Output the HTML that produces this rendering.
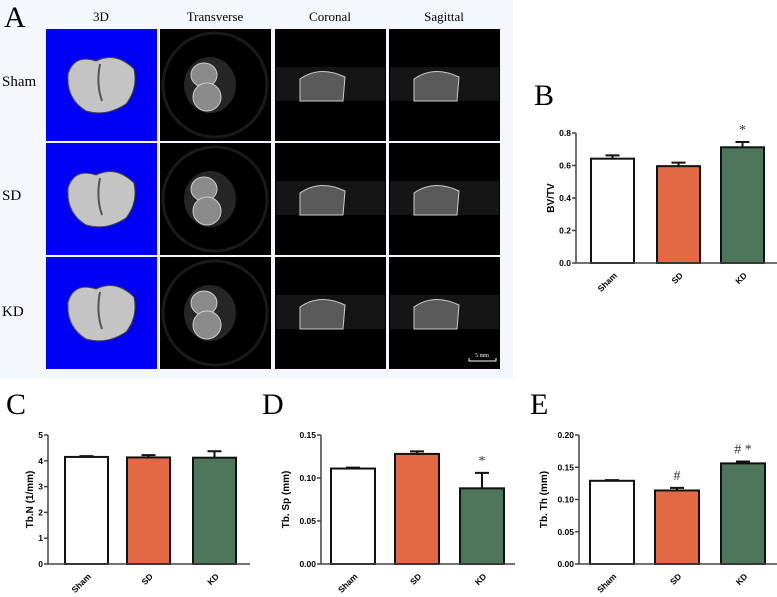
<!DOCTYPE html>
<html><head><meta charset="utf-8"><style>
html,body{margin:0;padding:0;background:#fff;}
svg{display:block;}
.ser{font-family:"Liberation Serif",serif;}
.sans{font-family:"Liberation Sans",sans-serif;font-weight:bold;}
</style></head><body>
<svg id="fig" width="777" height="597" viewBox="0 0 777 597" xmlns="http://www.w3.org/2000/svg">
<rect width="777" height="597" fill="#fff"/>
<g id="panelA">
<rect x="0" y="0" width="513" height="379" fill="#f4f8fc"/>
<text class="ser" x="4" y="27" font-size="30">A</text>
<text class="ser" x="101" y="21" font-size="13" text-anchor="middle">3D</text>
<text class="ser" x="215" y="21" font-size="13" text-anchor="middle">Transverse</text>
<text class="ser" x="330" y="21" font-size="13" text-anchor="middle">Coronal</text>
<text class="ser" x="444" y="21" font-size="13" text-anchor="middle">Sagittal</text>
<text class="ser" x="2" y="86" font-size="15">Sham</text>
<text class="ser" x="2" y="200" font-size="15">SD</text>
<text class="ser" x="2" y="316" font-size="15">KD</text>
</g>
<g id="charts"></g>
</svg>
<script>
// Chart data
const groups = ["Sham", "SD", "KD"];
const bvtvMeans = [0.642, 0.596, 0.712];
const bvtvErrs = [0.02, 0.022, 0.033];
const bvtvTicks = ["0.0", "0.2", "0.4", "0.6", "0.8"];
const tbnMeans = [4.15, 4.13, 4.12];
const tbnErrs = [0.03, 0.09, 0.25];
const tbnTicks = ["0", "1", "2", "3", "4", "5"];
const tbspMeans = [0.111, 0.128, 0.088];
const tbspErrs = [0.001, 0.003, 0.018];
const tbspTicks = ["0.00", "0.05", "0.10", "0.15"];
const tbthMeans = [0.129, 0.114, 0.156];
const tbthErrs = [0.001, 0.004, 0.003];
const tbthTicks = ["0.00", "0.05", "0.10", "0.15", "0.20"];
const bvtvMarks = ["", "", "*"];
const tbnMarks = ["", "", ""];
const tbspMarks = ["", "", "*"];
const tbthMarks = ["", "#", "#  *"];

const NS = "http://www.w3.org/2000/svg";
const fillColors = ["#ffffff", "#e36944", "#4d765b"];
function mk(tag, attrs, parent) {
  const e = document.createElementNS(NS, tag);
  for (const k in attrs) e.setAttribute(k, attrs[k]);
  parent.appendChild(e);
  return e;
}
const root = document.getElementById("charts");
const panelA = document.getElementById("panelA");

// Panel A images
const colX = [46, 160, 275, 389];
const rowY = [29, 143, 257];
for (let r = 0; r < 3; r++) {
  for (let c = 0; c < 4; c++) {
    const x = colX[c], y = rowY[r];
    const g = mk("g", {}, panelA);
    
    
    mk("rect", {x: x, y: y, width: 111, height: 112, fill: c === 0 ? "#0000f6" : "#000"}, g);
    if (c === 0) {
      mk("path", {d: `M${x+22} ${y+45} Q${x+28} ${y+25} ${x+50} ${y+32} Q${x+70} ${y+22} ${x+88} ${y+40} Q${x+92} ${y+60} ${x+80} ${y+75} Q${x+60} ${y+88} ${x+40} ${y+82} Q${x+20} ${y+70} ${x+22} ${y+45}Z`, fill: "#c4c4c4", stroke: "#444", "stroke-width": 1}, g);
      mk("path", {d: `M${x+54} ${y+35} Q${x+50} ${y+55} ${x+56} ${y+72}`, fill: "none", stroke: "#555", "stroke-width": 2}, g);
    } else if (c === 1) {
      mk("circle", {cx: x+55, cy: y+56, r: 52, fill: "none", stroke: "#1a1a1a", "stroke-width": 3}, g);
      mk("ellipse", {cx: x+50, cy: y+56, rx: 26, ry: 28, fill: "#262626"}, g);
      mk("ellipse", {cx: x+44, cy: y+46, rx: 13, ry: 12, fill: "#8a8a8a", stroke: "#ccc"}, g);
      mk("ellipse", {cx: x+47, cy: y+68, rx: 14, ry: 14, fill: "#8a8a8a", stroke: "#ccc"}, g);
    } else {
      mk("rect", {x: x+1, y: y+38, width: 109, height: 34, fill: "#151515"}, g);
      mk("path", {d: `M${x+25} ${y+72} L${x+25} ${y+50} Q${x+45} ${y+36} ${x+70} ${y+48} L${x+68} ${y+72}Z`, fill: "#5a5a5a", stroke: "#ccc"}, g);
    }
  }
}
const sb = mk("g", {}, panelA);


mk("path", {d: "M469 358 L469 361 L496 361 L496 358", fill: "none", stroke: "#fff", "stroke-width": 1}, sb);
const sbt = mk("text", {x: 482, y: 357, "font-size": 6, fill: "#fff", "text-anchor": "middle", class: "ser"}, sb);
sbt.textContent = "5 mm";

function chart(cfg) {
  const g = mk("g", {}, root);
  
  
  const ax = cfg.ax, y0 = cfg.y0, y1 = cfg.y1, max = cfg.max;
  const ys = v => y0 - (v / max) * (y0 - y1);
  const lab = mk("text", {x: cfg.lx, y: cfg.ly, "font-size": 30, class: "ser"}, g);
  
  
  lab.textContent = cfg.letter;
  cfg.means.forEach((m, i) => {
    const bx = cfg.barX[i];
    const top = ys(m), et = ys(m + cfg.errs[i]);
    const cx = bx + cfg.bw / 2;
    const eb = mk("path", {d: `M${cx} ${top} L${cx} ${et} M${cx-7} ${et} L${cx+7} ${et}`, stroke: "#111", "stroke-width": 2, fill: "none"}, g);
    
    
    const b = mk("rect", {x: bx, y: top, width: cfg.bw, height: y0 - top, fill: fillColors[i], stroke: "#111", "stroke-width": 2}, g);
    
    
    if (cfg.marks[i]) {
      const t = mk("text", {x: cx, y: et - 8, "font-size": 14, "text-anchor": "middle", fill: "#333", class: "ser", "xml:space": "preserve"}, g);
      
      
      t.textContent = cfg.marks[i];
    }
    const lx = cx + 5, ly = y0 + 13;
    const xl = mk("text", {x: lx, y: ly, "font-size": 8.5, "text-anchor": "end", class: "sans", transform: `rotate(-45 ${lx} ${ly})`}, g);
    
    
    xl.textContent = groups[i];
  });
  const a = mk("path", {d: `M${ax} ${y1} L${ax} ${y0} L${cfg.axEnd} ${y0}`, stroke: "#444", "stroke-width": 1.5, fill: "none"}, g);
  
  
  cfg.ticks.forEach(t => {
    const ty = ys(parseFloat(t));
    mk("line", {x1: ax - 4, y1: ty, x2: ax, y2: ty, stroke: "#444", "stroke-width": 1.5}, g);
    const tl = mk("text", {x: ax - 5, y: ty + 3, "font-size": 8.5, "text-anchor": "end", class: "sans"}, g);
    
    
    tl.textContent = t;
  });
  const yt = mk("text", {x: cfg.tx, y: (y0 + y1) / 2, "font-size": 10, "text-anchor": "middle", class: "sans", transform: `rotate(-90 ${cfg.tx} ${(y0+y1)/2})`}, g);
  
  
  yt.textContent = cfg.title;
}
chart({name: "chart-bv-tv", letter: "B", lx: 534, ly: 105, ax: 576, y0: 263, y1: 133, max: 0.8, axEnd: 777, barX: [591, 657, 721], bw: 43, means: bvtvMeans, errs: bvtvErrs, ticks: bvtvTicks, marks: bvtvMarks, title: "BV/TV", tx: 554});
chart({name: "chart-tb-n", letter: "C", lx: 6, ly: 414, ax: 48, y0: 564, y1: 435, max: 5, axEnd: 250, barX: [65, 127, 193], bw: 43, means: tbnMeans, errs: tbnErrs, ticks: tbnTicks, marks: tbnMarks, title: "Tb.N (1/mm)", tx: 33});
chart({name: "chart-tb-sp", letter: "D", lx: 262, ly: 414, ax: 321, y0: 564, y1: 435, max: 0.15, axEnd: 515, barX: [331, 395, 460], bw: 44, means: tbspMeans, errs: tbspErrs, ticks: tbspTicks, marks: tbspMarks, title: "Tb. Sp (mm)", tx: 289});
chart({name: "chart-tb-th", letter: "E", lx: 530, ly: 414, ax: 579, y0: 564, y1: 435, max: 0.2, axEnd: 777, barX: [590, 655, 721], bw: 44, means: tbthMeans, errs: tbthErrs, ticks: tbthTicks, marks: tbthMarks, title: "Tb. Th (mm)", tx: 547});
</script>
</body></html>
